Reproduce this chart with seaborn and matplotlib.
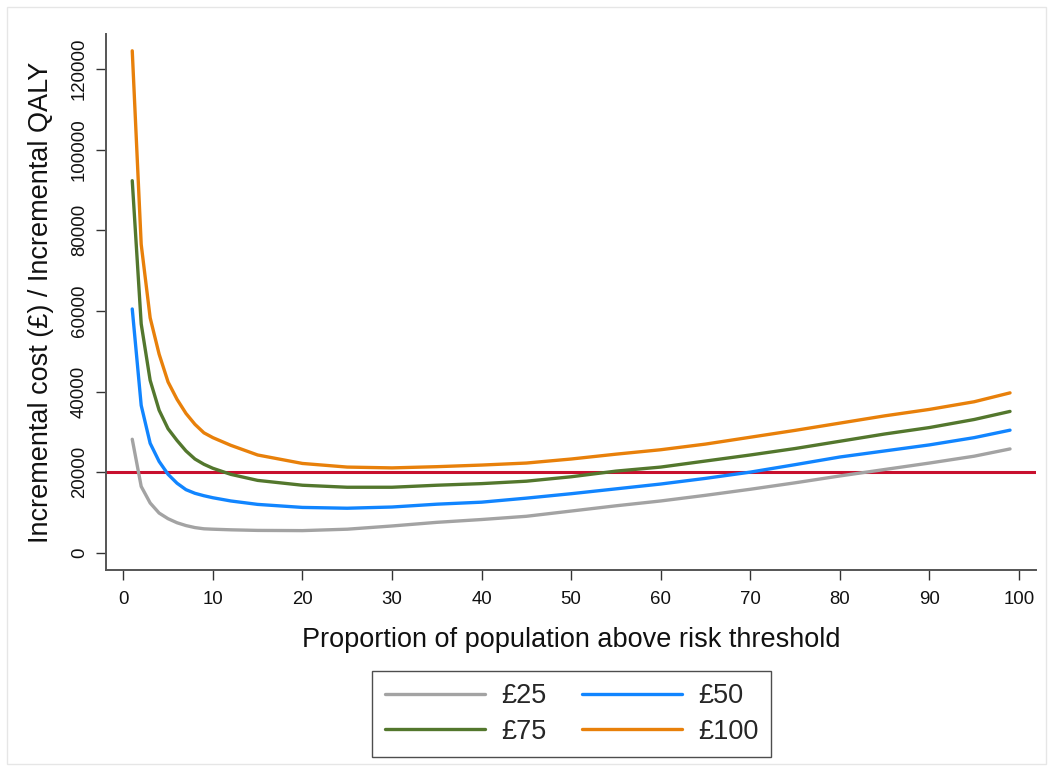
import matplotlib
matplotlib.use("Agg")
import matplotlib.pyplot as plt
import seaborn as sns
import pandas as pd
from matplotlib.patches import Rectangle

# ---- data ----
proportion = [1, 2, 3, 4, 5, 6, 7, 8, 9, 10, 12, 15, 20, 25, 30, 35, 40, 45, 50,
              55, 60, 65, 70, 75, 80, 85, 90, 95, 99]
icer_25 = [28200, 16500, 12400, 9900, 8500, 7500, 6800, 6300, 6000, 5900, 5750, 5600,
           5550, 5900, 6700, 7600, 8300, 9100, 10400, 11700, 12900, 14300, 15800,
           17400, 19100, 20700, 22300, 24000, 25800]
icer_50 = [60500, 36600, 27200, 22700, 19500, 17300, 15700, 14800, 14200, 13700, 12900,
           12050, 11300, 11100, 11400, 12100, 12600, 13600, 14700, 15900, 17100, 18500,
           20050, 21900, 23800, 25300, 26800, 28600, 30450]
icer_75 = [92300, 56800, 42800, 35400, 30800, 27900, 25300, 23300, 22000, 21000, 19500,
           18000, 16800, 16300, 16300, 16800, 17200, 17800, 18900, 20300, 21300, 22800,
           24300, 25900, 27700, 29500, 31100, 33100, 35100]
icer_100 = [124500, 76500, 58300, 49300, 42400, 38100, 34600, 31900, 29800, 28600, 26700,
            24300, 22200, 21300, 21100, 21400, 21800, 22300, 23300, 24500, 25600, 27000,
            28700, 30400, 32200, 34000, 35600, 37500, 39700]
series_labels = ["£25", "£50", "£75", "£100"]
threshold = 20000
x_ticks = list(range(0, 101, 10))
y_ticks = list(range(0, 120001, 20000))

df = pd.DataFrame({
    "proportion": proportion * 4,
    "icer": icer_25 + icer_50 + icer_75 + icer_100,
    "price": [series_labels[0]] * len(proportion) + [series_labels[1]] * len(proportion)
             + [series_labels[2]] * len(proportion) + [series_labels[3]] * len(proportion),
})

sns.set_style("white")
plt.rcParams["font.family"] = ["Liberation Sans", "DejaVu Sans"]

palette = {"£25": "#a3a3a3", "£50": "#1185ff", "£75": "#53772d", "£100": "#e8800a"}

fig = plt.figure(figsize=(10.53, 7.71), dpi=100)
ax = fig.add_axes([106 / 1053, 1 - 570 / 771, (1036 - 106) / 1053, (570 - 34) / 771])

sns.lineplot(data=df, x="proportion", y="icer", hue="price", hue_order=series_labels,
             palette=palette, linewidth=2.4, ax=ax, legend=False, estimator=None)
ax.axhline(threshold, color="#c8102e", linewidth=2.2, zorder=1)

ax.set_xlim(-1.93, 101.9)
ax.set_ylim(-4215, 128670)
ax.set_xticks(x_ticks)
ax.set_yticks(y_ticks)
ax.set_xticklabels([str(t) for t in x_ticks])
ax.set_yticklabels([str(t) for t in y_ticks], rotation=90, va="center")

for s in ["top", "right"]:
    ax.spines[s].set_visible(False)
for s in ["left", "bottom"]:
    ax.spines[s].set_color("#555555")
    ax.spines[s].set_linewidth(1.4)
ax.tick_params(axis="both", which="major", length=7, width=1.0, color="#333333",
               labelsize=13.4, labelcolor="#111111", left=True, bottom=True)
ax.tick_params(axis="y", pad=6)
ax.tick_params(axis="x", pad=8)

ax.set_xlabel("Proportion of population above risk threshold", fontsize=19.5,
              color="#111111", labelpad=14)
ax.set_ylabel("Incremental cost (£) / Incremental QALY", fontsize=19.5,
              color="#111111", labelpad=12)

# legend filled row-wise: (£25, £50) on first row, (£75, £100) on second
legend_order = [series_labels[0], series_labels[2], series_labels[1], series_labels[3]]
handles = [plt.Line2D([], [], color=palette[k], linewidth=2.4) for k in legend_order]
leg = fig.legend(handles, legend_order, loc="center", ncol=2,
                 bbox_to_anchor=((371 + 772) / 2 / 1053, 1 - 714 / 771),
                 fontsize=19.5, frameon=True, fancybox=False, handlelength=3.7,
                 handletextpad=0.6, columnspacing=1.3, borderpad=0.45,
                 labelspacing=0.35)
leg.get_frame().set_edgecolor("#222222")
leg.get_frame().set_linewidth(1.0)

fig.patches.append(Rectangle((7 / 1053, 7 / 771), 1 - 14 / 1053, 1 - 14 / 771,
                             transform=fig.transFigure, fill=False,
                             edgecolor="#e6e6e6", linewidth=1.0))

fig.savefig("out.png", dpi=100, facecolor="white")
